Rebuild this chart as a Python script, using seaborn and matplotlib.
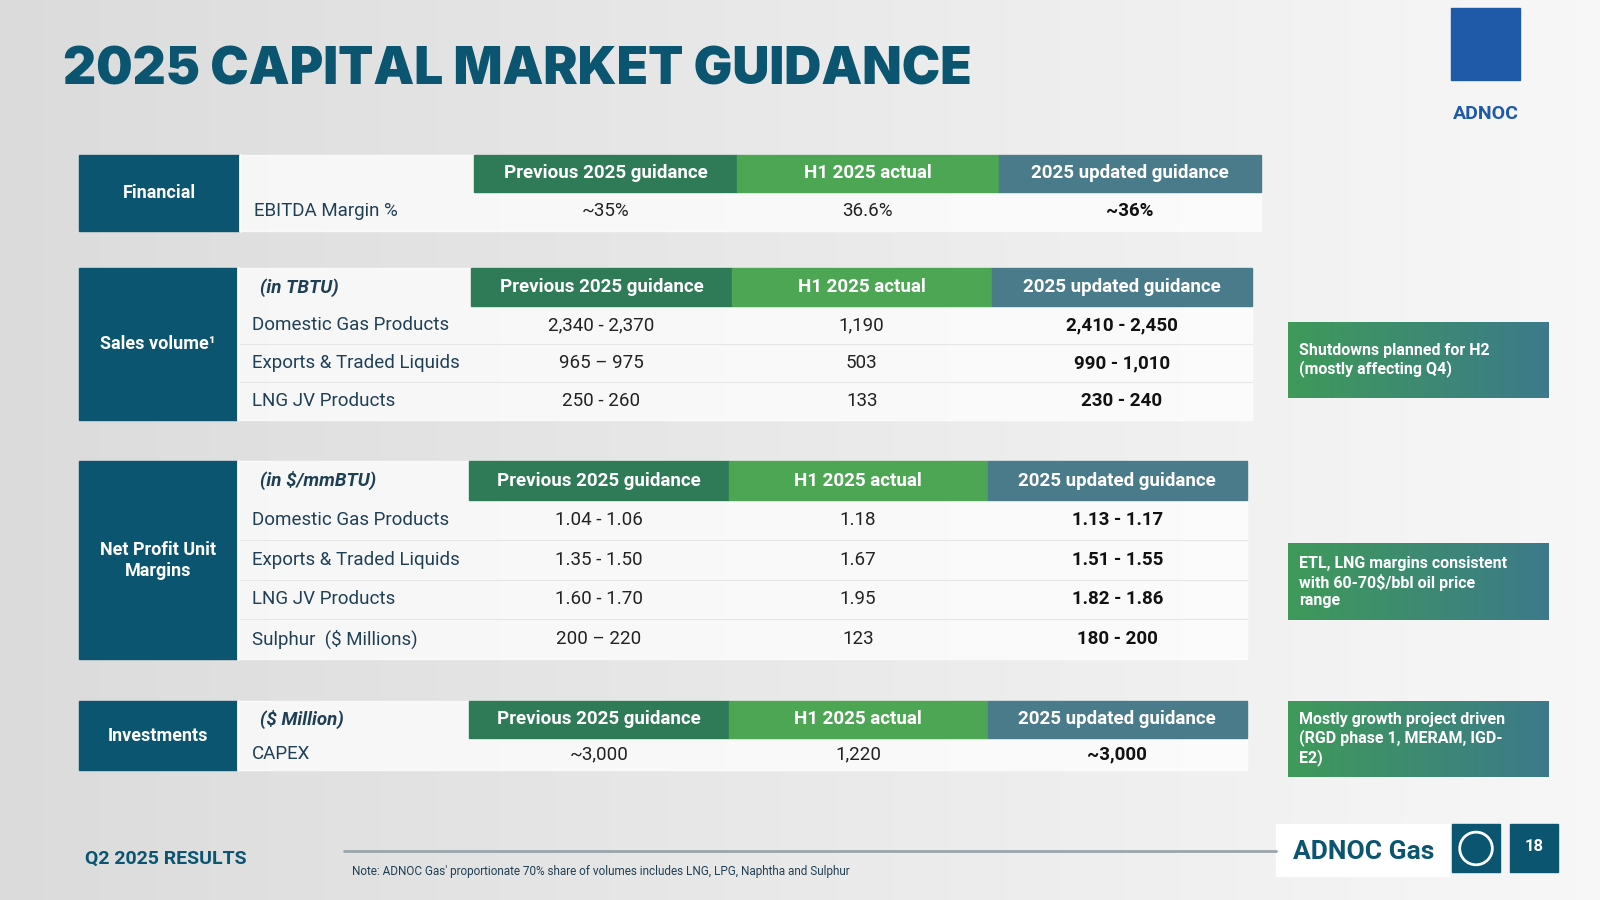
import matplotlib
matplotlib.use("Agg")
import matplotlib.pyplot as plt
import seaborn as sns
import numpy as np
from matplotlib.patches import Rectangle

sns.set_theme(style="white", font="Roboto")

TITLE = "2025 CAPITAL MARKET GUIDANCE"
COL_HEADERS = ["Previous 2025 guidance", "H1 2025 actual", "2025 updated guidance"]

fin_section = "Financial"
fin_unit = ""
fin_rows = ["EBITDA Margin %"]
fin_prev = ["~35%"]
fin_h1 = ["36.6%"]
fin_upd = ["~36%"]

sales_section = "Sales volume¹"
sales_unit = "(in TBTU)"
sales_rows = ["Domestic Gas Products", "Exports & Traded Liquids", "LNG JV Products"]
sales_prev = ["2,340 - 2,370", "965 – 975", "250 - 260"]
sales_h1 = ["1,190", "503", "133"]
sales_upd = ["2,410 - 2,450", "990 - 1,010", "230 - 240"]

npm_section = "Net Profit Unit\nMargins"
npm_unit = "(in $/mmBTU)"
npm_rows = ["Domestic Gas Products", "Exports & Traded Liquids", "LNG JV Products", "Sulphur  ($ Millions)"]
npm_prev = ["1.04 - 1.06", "1.35 - 1.50", "1.60 - 1.70", "200 – 220"]
npm_h1 = ["1.18", "1.67", "1.95", "123"]
npm_upd = ["1.13 - 1.17", "1.51 - 1.55", "1.82 - 1.86", "180 - 200"]

inv_section = "Investments"
inv_unit = "($ Million)"
inv_rows = ["CAPEX"]
inv_prev = ["~3,000"]
inv_h1 = ["1,220"]
inv_upd = ["~3,000"]

notes = ["Shutdowns planned for H2\n(mostly affecting Q4)",
         "ETL, LNG margins consistent\nwith 60-70$/bbl oil price\nrange",
         "Mostly growth project driven\n(RGD phase 1, MERAM, IGD-\nE2)"]

TEAL = "#0b5570"
DGREEN = "#2f7a57"
GREEN = "#4da653"
SLATE = "#4a7b8b"
TXT = "#1f3f55"

W, H = 1568, 882
fig = plt.figure(figsize=(16, 9), dpi=100)
ax = fig.add_axes([0, 0, 1, 1])
ax.set_xlim(0, W); ax.set_ylim(H, 0); ax.axis("off")

grad = np.linspace(0.86, 0.97, 256)[None, :]
ax.imshow(np.dstack([grad, grad, grad]), extent=[0, W, H, 0], aspect="auto", zorder=0)

ax.text(62, 70, TITLE, fontsize=37, fontweight="black", color=TEAL, va="center", ha="left",
        family="Inter")

def section(y0, hh, rh, left_w, cols, name, unit, rows, prev, h1, upd):
    nrows = len(rows)
    y_end = y0 + hh + rh * nrows
    ax.add_patch(Rectangle((77, y0), left_w - 77, y_end - y0, color=TEAL, zorder=2))
    ax.text((77 + left_w) / 2, (y0 + y_end) / 2, name, color="white", fontsize=13, fontweight="bold",
            ha="center", va="center", linespacing=1.2, zorder=3)
    ax.add_patch(Rectangle((left_w, y0), cols[-1] - left_w, y_end - y0, color="white", alpha=0.75, zorder=1))
    for i, (c, lab) in enumerate(zip([DGREEN, GREEN, SLATE], COL_HEADERS)):
        ax.add_patch(Rectangle((cols[i], y0), cols[i + 1] - cols[i], hh, color=c, zorder=2))
        ax.text((cols[i] + cols[i + 1]) / 2, y0 + hh / 2, lab, color="white", fontsize=13.5,
                fontweight="bold", ha="center", va="center", zorder=3)
    if unit:
        ax.text(left_w + 22, y0 + hh / 2, unit, color=TXT, fontsize=13.5, fontweight="bold",
                style="italic", ha="left", va="center", zorder=3)
    for r in range(nrows):
        yc = y0 + hh + rh * (r + 0.5)
        if r > 0:
            ax.plot([left_w, cols[-1]], [y0 + hh + rh * r] * 2, color="#e6e6e6", lw=0.8, zorder=2)
        ax.text(left_w + 14, yc, rows[r], color=TXT, fontsize=13.5, ha="left", va="center", zorder=3)
        for i, vals in enumerate([prev, h1, upd]):
            ax.text((cols[i] + cols[i + 1]) / 2, yc, vals[r], color="#222222" if i < 2 else "#111111",
                    fontsize=13.5, fontweight="bold" if i == 2 else "normal", ha="center", va="center", zorder=3)
    ax.plot([left_w, left_w], [y0, y_end], color="white", lw=2, zorder=3)

section(152, 36, 38, 235, [465, 722, 979, 1236], fin_section, fin_unit, fin_rows, fin_prev, fin_h1, fin_upd)
section(263, 37, 37.3, 233, [462, 717, 972, 1227], sales_section, sales_unit, sales_rows, sales_prev, sales_h1, sales_upd)
section(452, 38, 39, 233, [460, 714, 968, 1222], npm_section, npm_unit, npm_rows, npm_prev, npm_h1, npm_upd)
section(687, 36, 32, 233, [460, 714, 968, 1222], inv_section, inv_unit, inv_rows, inv_prev, inv_h1, inv_upd)

cm = matplotlib.colors.LinearSegmentedColormap.from_list("g", ["#3f9a5a", "#3c7a8a"])
for (y0, y1), txt in zip([(316, 390), (533, 608), (687, 761)], notes):
    ax.imshow(np.linspace(0, 1, 100)[None, :], cmap=cm, extent=[1262, 1517, y1, y0], aspect="auto", zorder=2)
    ax.text(1273, (y0 + y1) / 2, txt, color="white", fontsize=11.5, fontweight="bold", ha="left",
            va="center", linespacing=1.2, zorder=3)
ax.set_xlim(0, W); ax.set_ylim(H, 0)

ax.add_patch(Rectangle((1422, 8), 68, 70, color="#1e5aa8", zorder=2))
ax.text(1456, 112, "ADNOC", color="#1e5aa8", fontsize=14, fontweight="bold", ha="center", va="center")

ax.text(83, 842, "Q2 2025 RESULTS", color=TEAL, fontsize=14, fontweight="bold", ha="left", va="center")
ax.plot([337, 1250], [834, 834], color="#9aa5ab", lw=2)
ax.text(345, 854, "Note: ADNOC Gas' proportionate 70% share of volumes includes LNG, LPG, Naphtha and Sulphur",
        color=TXT, fontsize=8.5, ha="left", va="center")
ax.add_patch(Rectangle((1250, 808), 170, 50, color="white", zorder=1))
ax.text(1267, 835, "ADNOC Gas", color=TEAL, fontsize=19, fontweight="bold", ha="left", va="center", zorder=3)
ax.add_patch(Rectangle((1423, 808), 47, 47, color=TEAL, zorder=2))
ax.add_patch(plt.Circle((1446.5, 831.5), 16, color="white", fill=False, lw=2, zorder=3))
ax.add_patch(Rectangle((1480, 808), 47, 47, color=TEAL, zorder=2))
ax.text(1503.5, 830, "18", color="white", fontsize=12, fontweight="bold", ha="center", va="center", zorder=3)

fig.savefig("out.png", dpi=100)
